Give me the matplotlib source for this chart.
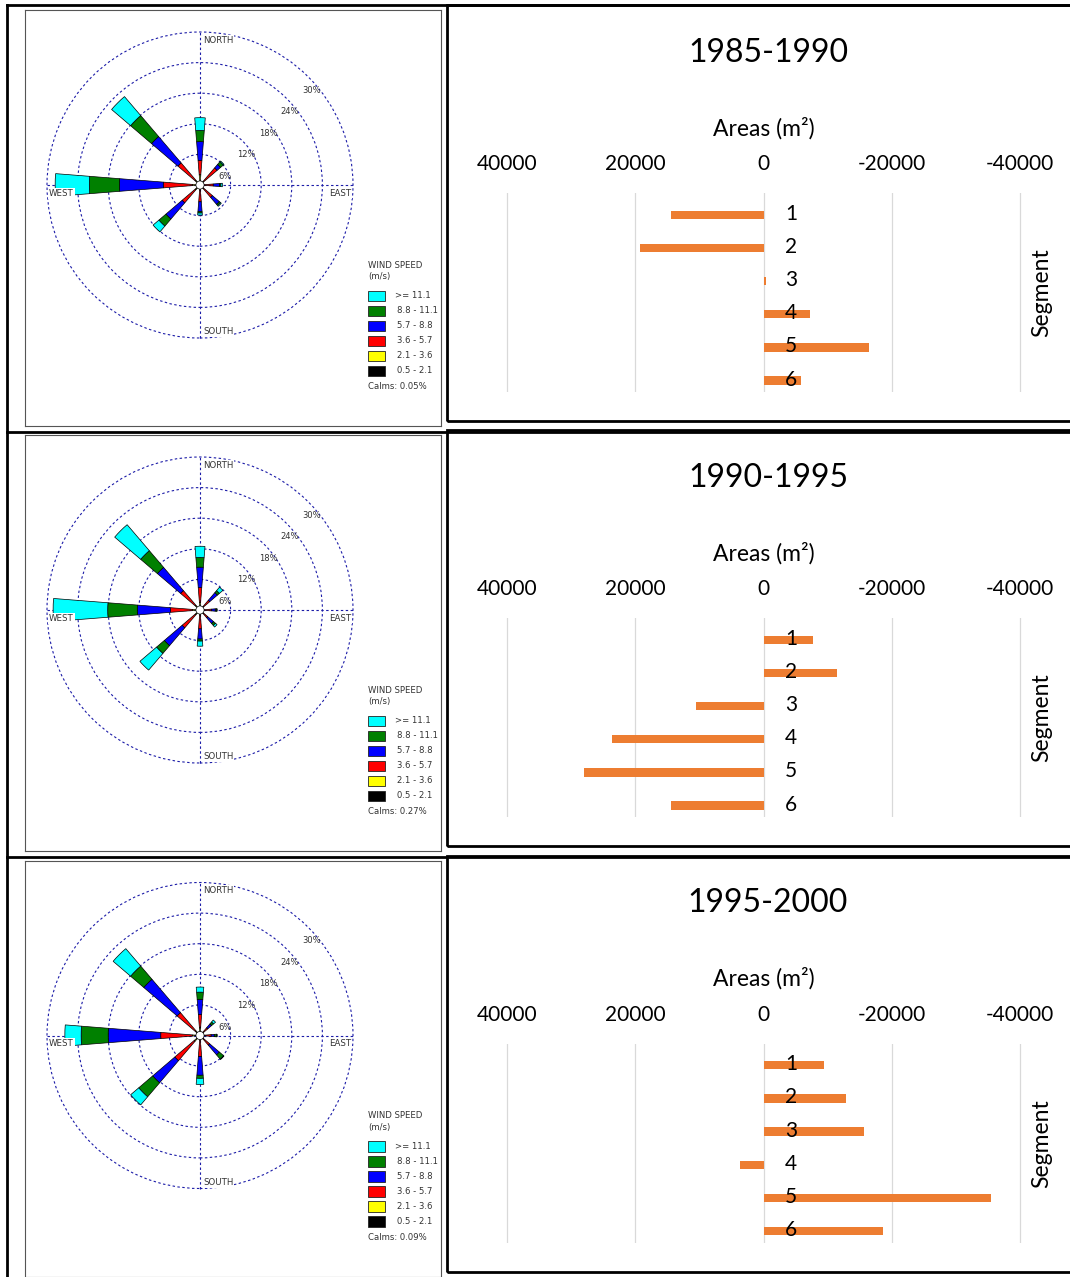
import numpy as np
import matplotlib
matplotlib.use('Agg')
import matplotlib.pyplot as plt
from matplotlib.patches import Wedge, Circle, Rectangle
from matplotlib.lines import Line2D
from matplotlib.transforms import ScaledTranslation

plt.rcParams['font.family'] = ['Lato', 'DejaVu Sans']
plt.rcParams['axes.unicode_minus'] = False

W, H = 1070, 1277

# ---- data -------------------------------------------------------------
periods = ['1985-1990', '1990-1995', '1995-2000']
calms = [0.05, 0.27, 0.09]

# compass directions of the rose petals (deg clockwise from north)
directions = [0, 45, 90, 135, 180, 225, 270, 315]
# speed classes from slowest to fastest
speed_labels = ['0.5 - 2.1', '2.1 - 3.6', '3.6 - 5.7', '5.7 - 8.8', '8.8 - 11.1', '>= 11.1']
speed_colors = ['#000000', '#ffff00', '#ff0000', '#0000ff', '#008000', '#00ffff']

# frequency (%) per direction (rows, N..NW) and speed class (cols, slow..fast)
freq_8590 = np.array([
    [0.3, 1.7, 2.8, 3.7, 2.2, 2.5],
    [0.2, 0.6, 3.6, 0.9, 0.7, 0.2],
    [0.2, 0.6, 1.8, 1.2, 0.3, 0.3],
    [0.2, 0.6, 2.4, 1.8, 0.3, 0.2],
    [0.3, 0.7, 2.3, 1.9, 0.3, 0.4],
    [0.3, 0.9, 3.4, 4.2, 1.8, 1.5],
    [0.3, 1.2, 5.7, 8.6, 5.9, 6.7],
    [0.3, 0.9, 4.5, 6.8, 5.4, 4.9],
])
freq_9095 = np.array([
    [0.3, 1.2, 2.9, 4.0, 1.9, 2.2],
    [0.2, 0.6, 1.7, 2.0, 0.5, 0.9],
    [0.2, 0.6, 1.5, 0.7, 0.3, 0.05],
    [0.2, 0.6, 1.2, 1.5, 0.5, 0.4],
    [0.3, 0.7, 2.7, 2.0, 0.4, 1.0],
    [0.3, 0.9, 3.4, 4.6, 2.0, 4.3],
    [0.3, 1.2, 4.3, 6.5, 5.8, 10.7],
    [0.3, 0.9, 3.8, 6.0, 4.3, 6.7],
])
freq_9500 = np.array([
    [0.3, 1.2, 2.6, 3.0, 1.4, 1.0],
    [0.2, 0.5, 1.3, 1.0, 0.5, 0.5],
    [0.2, 0.5, 1.5, 0.6, 0.5, 0.05],
    [0.2, 0.6, 1.7, 2.5, 1.1, 0.1],
    [0.3, 0.7, 3.1, 3.7, 0.6, 1.2],
    [0.3, 1.2, 5.0, 5.7, 3.6, 2.1],
    [0.3, 1.2, 6.2, 10.3, 5.3, 3.2],
    [0.3, 0.9, 4.7, 8.6, 3.4, 4.5],
])
rings = [6, 12, 18, 24, 30]

# area change per segment (m2)
segments = [1, 2, 3, 4, 5, 6]
areas_8590 = [14500, 19200, -400, -7300, -16500, -5800]
areas_9095 = [-7700, -11400, 10500, 23600, 28000, 14500]
areas_9500 = [-9500, -12900, -15600, 3700, -35500, -18600]
area_ticks = [40000, 20000, 0, -20000, -40000]

rose_data = [freq_8590, freq_9095, freq_9500]
area_data = [areas_8590, areas_9095, areas_9500]
row_offsets = [0, 425, 850.5]

# ---- helpers ----------------------------------------------------------
def px_rect(x0, y0, x1, y1):
    return [x0 / W, 1 - y1 / H, (x1 - x0) / W, (y1 - y0) / H]


def fx(x):
    return x / W


def fy(y):
    return 1 - y / H


SCALE = 5.1          # pixels per percent on the rose
GRID_C = '#1c1ca8'
TXT_C = '#333333'


def draw_rose(ax, freq, calm):
    cum = np.cumsum(freq, axis=1)
    inner = cum - freq
    half = 4.5
    for d, lo_row, hi_row in zip(directions, inner, cum):
        ang = 90 - d
        for lo, hi, c in zip(lo_row, hi_row, speed_colors):
            if hi - lo <= 0:
                continue
            ax.add_patch(Wedge((0, 0), hi, ang - half, ang + half, width=hi - lo,
                               facecolor=c, edgecolor='black', lw=0.5, zorder=3))
    ax.add_patch(Circle((0, 0), 0.8, facecolor='white', edgecolor='black', lw=0.5, zorder=4))

    # dashed rings and cross
    for r in rings:
        ax.add_patch(Circle((0, 0), r, fill=False, edgecolor=GRID_C,
                            ls=(0, (2.2, 2.2)), lw=0.8, zorder=1))
        ax.text(r * 0.707 + 0.7, r * 0.707 - 2.6, f'{r}%', fontsize=6,
                family='DejaVu Sans', color=TXT_C, ha='center', va='center', zorder=2)
    rmax = rings[-1]
    ax.plot([-rmax, rmax], [0, 0], color=GRID_C, ls=(0, (2.2, 2.2)), lw=0.8, zorder=1)
    ax.plot([0, 0], [-rmax, rmax], color=GRID_C, ls=(0, (2.2, 2.2)), lw=0.8, zorder=1)

    box = dict(facecolor='white', edgecolor='none', pad=0.6)
    kw = dict(fontsize=6.2, family='DejaVu Sans', color=TXT_C, va='center', zorder=5, bbox=box)
    ax.text(0.6, 28.4, 'NORTH', ha='left', **kw)
    ax.text(0.6, -28.8, 'SOUTH', ha='left', **kw)
    ax.text(-29.6, -1.6, 'WEST', ha='left', **kw)
    ax.text(29.6, -1.6, 'EAST', ha='right', **kw)

    # legend
    lkw = dict(fontsize=6.1, family='DejaVu Sans', color=TXT_C, va='center', ha='left')
    ax.text(32.9, -15.7, 'WIND SPEED', **lkw)
    ax.text(32.9, -18.0, '(m/s)', **lkw)
    for k, (lab, c) in enumerate(zip(speed_labels[::-1], speed_colors[::-1])):
        yc = -21.76 - 2.94 * k
        ax.add_patch(Rectangle((32.9, yc - 1.05), 3.4, 2.1, facecolor=c,
                               edgecolor='#222222', lw=0.6))
        ax.text(38.2 if k == 0 else 38.7, yc, lab, **lkw)
    ax.text(32.9, -39.6, f'Calms: {calm:.2f}%', **lkw)

    ax.set_xlim(-175 / SCALE, 241 / SCALE)
    ax.set_ylim(-241 / SCALE, 175 / SCALE)
    ax.set_xticks([])
    ax.set_yticks([])
    for s in ax.spines.values():
        s.set_color('#555555')
        s.set_linewidth(0.8)


def draw_bars(ax, areas):
    ax.barh(segments, areas, height=0.25, color='#ed7d31', zorder=1)
    for t in area_ticks:
        ax.axvline(t, color='#d9d9d9', lw=0.9, zorder=0.5)
    k = 513 / 80000
    ax.set_xlim(40000 + 10 / k, -40000 - 10 / k)
    ax.set_ylim(6.346, 0.346)
    ax.set_xticks(area_ticks)
    ax.set_xticklabels([f'{t}' for t in area_ticks])
    ax.set_yticks(segments)
    for s in ax.spines.values():
        s.set_visible(False)
    ax.spines['right'].set_position(('data', 0))
    ax.yaxis.tick_right()
    ax.xaxis.tick_top()
    ax.tick_params(axis='y', length=0, pad=15.5, labelsize=15)
    ax.tick_params(axis='x', length=0, pad=13.5, labelsize=15)
    shift = ScaledTranslation(0, 3 / 100, ax.figure.dpi_scale_trans)
    for lab in ax.get_yticklabels():
        lab.set_transform(lab.get_transform() + shift)


# ---- figure -----------------------------------------------------------
fig = plt.figure(figsize=(W / 100, H / 100), dpi=100)

for period, freq, calm, areas, off in zip(periods, rose_data, calms, area_data, row_offsets):
    ax_r = fig.add_axes(px_rect(25, 10 + off, 441, 426 + off))
    draw_rose(ax_r, freq, calm)

    ax_b = fig.add_axes(px_rect(497, 193 + off, 1030, 392 + off))
    draw_bars(ax_b, areas)

    fig.text(fx(768), fy(53 + off), period, fontsize=23, ha='center', va='center')
    fig.text(fx(764), fy(128 + off), 'Areas (m²)', fontsize=16.5, ha='center', va='center')
    fig.text(fx(1042), fy(293 + off), 'Segment', fontsize=16.5, rotation=90,
             ha='center', va='center')

    # chart frame
    fig.add_artist(Rectangle((fx(447), fy(421 + off)), fx(1090 - 447), 416 / H,
                             transform=fig.transFigure, fill=False,
                             edgecolor='black', lw=2.0))

# table lines
for y in [5, 431.5, 856.5]:
    fig.add_artist(Line2D([fx(7), fx(1070)], [fy(y), fy(y)], color='black', lw=2.0,
                          transform=fig.transFigure))
fig.add_artist(Line2D([fx(7), fx(7)], [fy(5), fy(1277)], color='black', lw=2.0,
                      transform=fig.transFigure))

fig.savefig('out.png', dpi=100)
